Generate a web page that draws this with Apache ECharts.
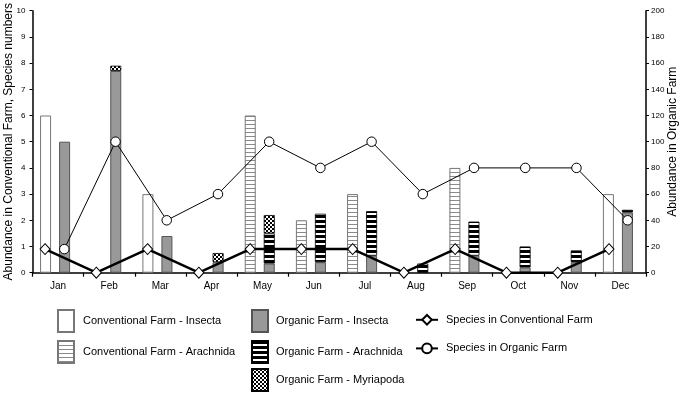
<!DOCTYPE html>
<html>
<head>
<meta charset="utf-8">
<script src="https://cdn.jsdelivr.net/npm/echarts@6/dist/echarts.min.js"></script>
<style>html,body{margin:0;padding:0;background:#fff;}#c{width:685px;height:393px;}</style>
</head>
<body>
<div id="c"></div>
<script>
const months = ['Jan','Feb','Mar','Apr','May','Jun','Jul','Aug','Sep','Oct','Nov','Dec'];
const leftTicks = [0,1,2,3,4,5,6,7,8,9,10];
const rightTicks = [0,20,40,60,80,100,120,140,160,180,200];
// Conventional farm abundance (left axis)
const convInsecta   = [6,0,3,0,0,0,0,0,0,0,0,3];
const convArachnida = [0,0,0,0,6,2,3,0,4,0,0,0];
// Organic farm abundance (right axis)
const orgInsecta    = [100,154,28,8,7,8,13,0,13,4,8,46];
const orgArachnida  = [0,0,0,0,23,37,34,7,26,16,9,2];
const orgMyriapoda  = [0,4,0,7,14,0,0,0,0,0,0,0];
// Species numbers (left axis)
const speciesConv   = [0.9,0,0.9,0,0.9,0.9,0.9,0,0.9,0,0,0.9];
const speciesOrg    = [0.9,5,2,3,5,4,5,3,4,4,4,2];

const FONT = "'Liberation Sans', Arial, sans-serif";
function pattern(w, h, draw) {
  const c = document.createElement('canvas');
  c.width = w; c.height = h;
  const g = c.getContext('2d');
  g.fillStyle = '#fff'; g.fillRect(0, 0, w, h);
  draw(g);
  return { image: c, repeat: 'repeat' };
}
const convArachPat = pattern(4, 4, g => { g.fillStyle = '#8a8a8a'; g.fillRect(0, 0, 4, 1); });
const orgArachPat = pattern(4, 5, g => { g.fillStyle = '#000'; g.fillRect(0, 0, 4, 3); });
const checkerPat = pattern(4, 4, g => { g.fillStyle = '#000'; g.fillRect(0, 0, 2, 2); g.fillRect(2, 2, 2, 2); });

const nz = arr => arr.map(v => v === 0 ? null : v);

const chart = echarts.init(document.getElementById('c'), null, { renderer: 'canvas' });
const gTop = 10.7, gBottom = 120.3;
const mkGrid = (l, r) => ({ left: l, right: r, top: gTop, bottom: gBottom, containLabel: false, outerBoundsMode: 'none' });
const hiddenCat = i => ({ type: 'category', gridIndex: i, data: months, show: false, boundaryGap: true });
const hiddenVal = (i, max) => ({ type: 'value', gridIndex: i, min: 0, max: max, show: false, splitLine: { show: false } });
const legendText = pad => ({ color: '#000', fontSize: 11, fontFamily: FONT, padding: [0, 0, 0, pad] });
const boxLegend = (left, top, names, pad) => ({
  orient: 'vertical', left: left, top: top, padding: 0, itemWidth: 16, itemHeight: 22, itemGap: 7, icon: 'rect',
  height: 100, textStyle: legendText(pad), data: names
});

const option = {
  animation: false,
  backgroundColor: '#fff',
  textStyle: { fontFamily: FONT },
  grid: [
    mkGrid(32.5, 39),
    mkGrid(29.5, 41.5),
    mkGrid(19.4, 50.4),
    mkGrid(38.7, 31.7)
  ],
  xAxis: [
    {
      type: 'category', gridIndex: 0, data: months, boundaryGap: true,
      axisLine: { lineStyle: { color: '#000', width: 1.5 } },
      axisTick: { show: true, alignWithLabel: false, length: 4, lineStyle: { color: '#000', width: 1.2 } },
      axisLabel: { color: '#000', fontSize: 10, fontFamily: FONT, margin: 9 }
    },
    hiddenCat(1), hiddenCat(2), hiddenCat(3)
  ],
  yAxis: [
    {
      type: 'value', gridIndex: 0, position: 'left', min: 0, max: 10, interval: 1,
      name: 'Abundance in Conventional Farm, Species numbers', nameLocation: 'middle', nameGap: 18,
      nameMoveOverlap: false,
      nameTextStyle: { color: '#000', fontSize: 12, fontFamily: FONT },
      axisLine: { show: true, lineStyle: { color: '#000', width: 1.5 } },
      axisTick: { show: true, length: 3, lineStyle: { color: '#000' } },
      axisLabel: { color: '#000', fontSize: 8, fontFamily: FONT, margin: 7 },
      splitLine: { show: false }
    },
    {
      type: 'value', gridIndex: 0, position: 'right', min: 0, max: 200, interval: 20,
      name: 'Abundance in Organic Farm', nameLocation: 'middle', nameGap: 21,
      nameMoveOverlap: false,
      nameTextStyle: { color: '#000', fontSize: 12, fontFamily: FONT },
      axisLine: { show: true, lineStyle: { color: '#000', width: 1.5 } },
      axisTick: { show: true, length: 3, lineStyle: { color: '#000' } },
      axisLabel: { color: '#000', fontSize: 8, fontFamily: FONT, margin: 5 },
      splitLine: { show: false }
    },
    hiddenVal(1, 10), hiddenVal(1, 200), hiddenVal(2, 10), hiddenVal(3, 10)
  ],
  legend: [
    boxLegend(57, 309, ['Conventional Farm - Insecta', 'Conventional Farm - Arachnida'], 4),
    boxLegend(251, 309, ['Organic Farm - Insecta', 'Organic Farm - Arachnida'], 3),
    boxLegend(251, 368, ['Organic Farm - Myriapoda'], 3),
    {
      orient: 'vertical', left: 415, top: 314, padding: 0, itemWidth: 22, itemHeight: 12, itemGap: 17,
      height: 100, textStyle: legendText(3),
      data: ['Species in Conventional Farm', 'Species in Organic Farm']
    }
  ],
  series: [
    {
      name: 'Conventional Farm - Insecta', type: 'bar', xAxisIndex: 1, yAxisIndex: 2, stack: 'conv',
      barWidth: 11, barGap: '73%', data: nz(convInsecta),
      itemStyle: { color: '#fff', borderColor: '#777', borderWidth: 1 }
    },
    {
      name: 'Conventional Farm - Arachnida', type: 'bar', xAxisIndex: 1, yAxisIndex: 2, stack: 'conv',
      barWidth: 11, barGap: '73%', data: nz(convArachnida),
      itemStyle: { color: convArachPat, borderColor: '#777', borderWidth: 1 }
    },
    {
      name: 'Organic Farm - Insecta', type: 'bar', xAxisIndex: 1, yAxisIndex: 3, stack: 'org',
      barWidth: 11, barGap: '73%', data: nz(orgInsecta),
      itemStyle: { color: '#999', borderColor: '#555', borderWidth: 1 }
    },
    {
      name: 'Organic Farm - Arachnida', type: 'bar', xAxisIndex: 1, yAxisIndex: 3, stack: 'org',
      barWidth: 11, barGap: '73%', data: nz(orgArachnida),
      itemStyle: { color: orgArachPat, borderColor: '#000', borderWidth: 0.8 }
    },
    {
      name: 'Organic Farm - Myriapoda', type: 'bar', xAxisIndex: 1, yAxisIndex: 3, stack: 'org',
      barWidth: 11, barGap: '73%', data: nz(orgMyriapoda),
      itemStyle: { color: checkerPat, borderColor: '#000', borderWidth: 0.8 }
    },
    {
      name: 'Species in Conventional Farm', type: 'line', xAxisIndex: 2, yAxisIndex: 4, data: speciesConv,
      symbol: 'diamond', symbolSize: [10, 11], showAllSymbol: true, z: 5,
      lineStyle: { color: '#000', width: 2.5 },
      itemStyle: { color: '#fff', borderColor: '#000', borderWidth: 1 }
    },
    {
      name: 'Species in Organic Farm', type: 'line', xAxisIndex: 3, yAxisIndex: 5, data: speciesOrg,
      symbol: 'circle', symbolSize: 9.5, showAllSymbol: true, z: 5,
      lineStyle: { color: '#000', width: 1 },
      itemStyle: { color: '#fff', borderColor: '#000', borderWidth: 1 }
    }
  ]
};
chart.setOption(option);
</script>
</body>
</html>
